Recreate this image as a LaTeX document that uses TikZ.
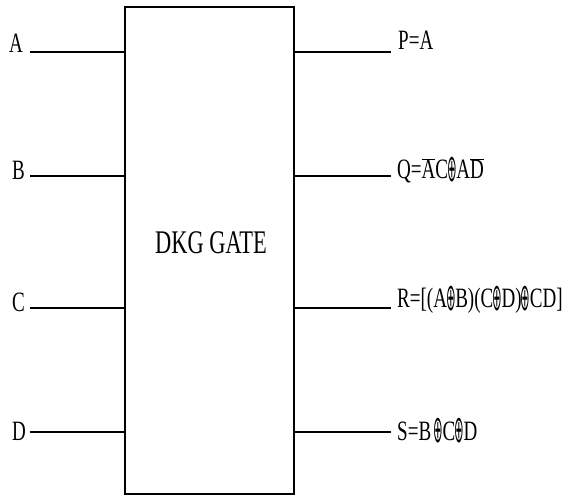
\documentclass[tikz,border=0pt]{standalone}
\usepackage{fontspec}
\setmainfont{Liberation Serif}
\newfontfamily\symfont{DejaVu Sans}
\usetikzlibrary{positioning}
% narrow text, xor sign and bar over a letter, as in the labels
\newcommand{\nar}[1]{\scalebox{0.68}[1]{#1}}
\newcommand{\xo}{\hspace{-1pt}\raisebox{-2.5pt}{\scalebox{0.6}[1.35]{\symfont ⊕}}\hspace{-1pt}}
\newcommand{\ovl}[1]{$\overline{\mbox{#1}}$}

\begin{document}
\begin{tikzpicture}[x=1pt, y=-1pt,
  gatebox/.style={draw, line width=1.1pt, minimum width=169pt, minimum height=487pt, inner sep=0pt},
  pin/.style={line width=1.1pt},
  inlbl/.style={font=\fontsize{28}{30}\selectfont, anchor=base east, inner sep=0pt},
  outlbl/.style={font=\fontsize{28}{30}\selectfont, anchor=base west, inner sep=0pt}
]
\useasboundingbox (0,0) rectangle (563,497);

% Gate
\node[gatebox] (gate) at (209.5,250.5) {};
\node[font=\fontsize{33}{35}\selectfont] (title) at (211,243) {\nar{DKG GATE}};

% Inputs
\coordinate (a) at (30,52);
\coordinate (b) at (30,176);
\coordinate (c) at (30,308);
\coordinate (d) at (30,432);
\node[inlbl] (la) at (23,53) {\nar{A}};
\node[inlbl] (lb) at (25,180) {\nar{B}};
\node[inlbl] (lc) at (25,312) {\nar{C}};
\node[inlbl] (ld) at (26,440) {\nar{D}};
\draw[pin] (a) -- (a -| gate.west);
\draw[pin] (b) -- (b -| gate.west);
\draw[pin] (c) -- (c -| gate.west);
\draw[pin] (d) -- (d -| gate.west);

% Outputs
\coordinate (p) at (391,52);
\coordinate (q) at (391,176);
\coordinate (r) at (391,308);
\coordinate (s) at (391,432);
\draw[pin] (p -| gate.east) -- (p);
\draw[pin] (q -| gate.east) -- (q);
\draw[pin] (r -| gate.east) -- (r);
\draw[pin] (s -| gate.east) -- (s);
\node[outlbl] (lp) at (398,50) {\nar{P=A}};
\node[outlbl] (lq) at (397,179) {\nar{Q=\ovl{A}C\xo A\ovl{D}}};
\node[outlbl] (lr) at (397,308) {\nar{R=[(A\xo B)(C\xo D)\xo CD]}};
\node[outlbl] (ls) at (397,440) {\nar{S=B\,\xo C\xo D}};
\end{tikzpicture}
\end{document}
